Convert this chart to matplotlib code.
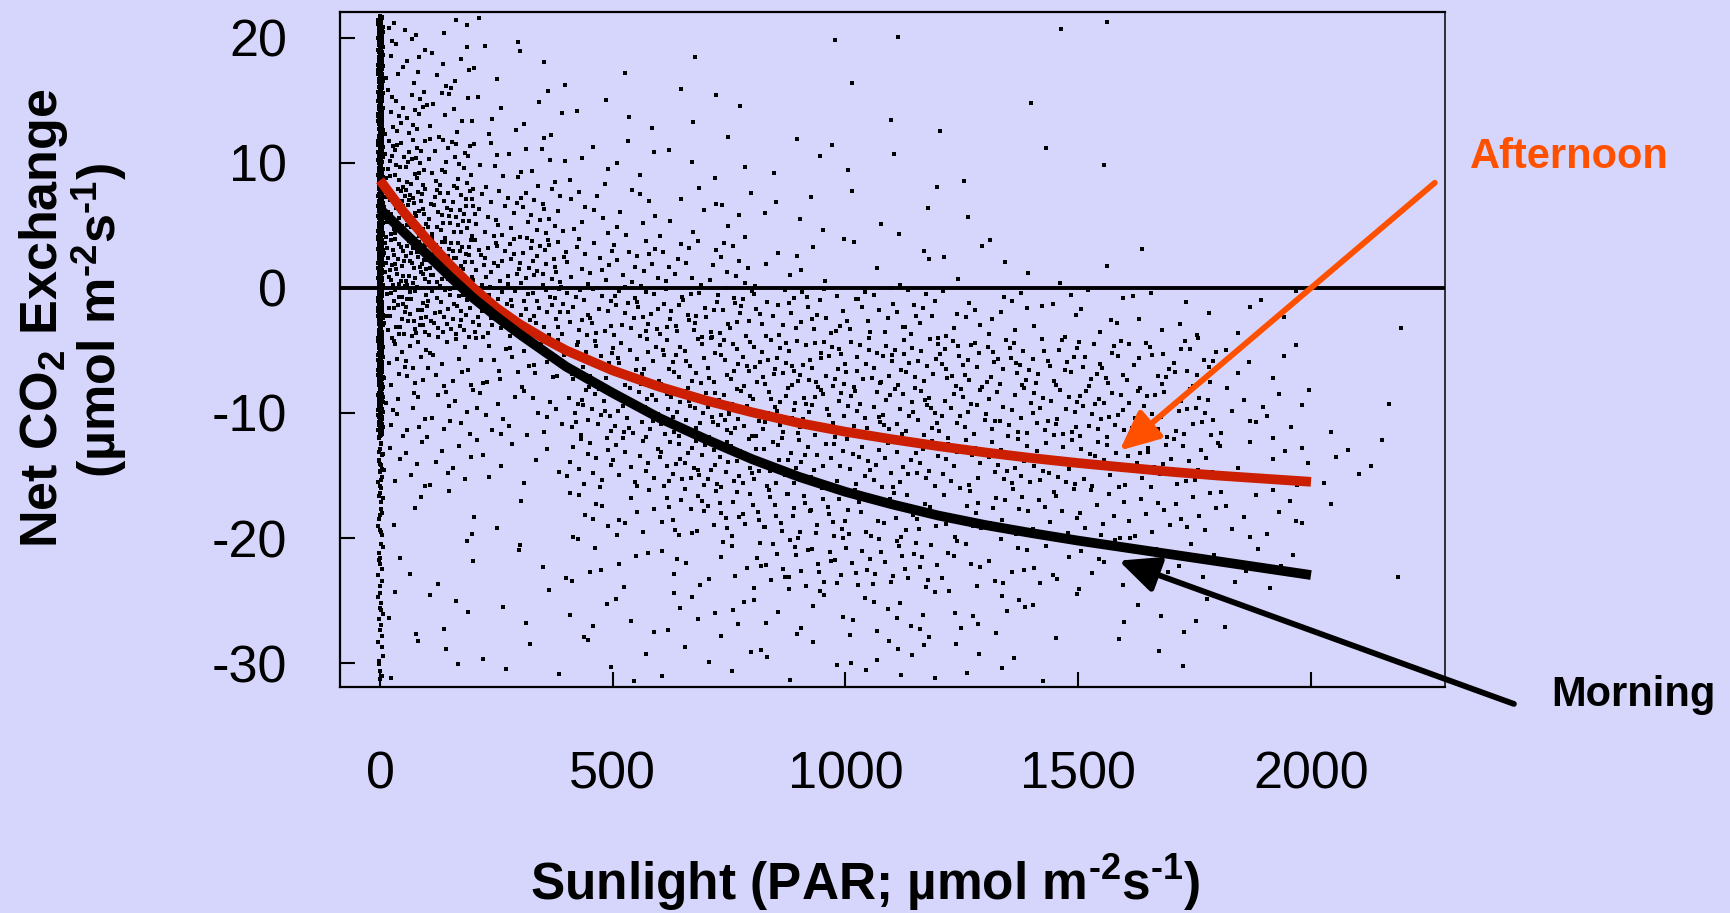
import numpy as np
import matplotlib
matplotlib.use('Agg')
import matplotlib.pyplot as plt

plt.rcParams['font.family'] = ['Liberation Sans', 'DejaVu Sans']
plt.rcParams['mathtext.fontset'] = 'custom'
plt.rcParams['mathtext.rm'] = 'Liberation Sans:bold'
plt.rcParams['mathtext.it'] = 'Liberation Sans:bold'
plt.rcParams['mathtext.bf'] = 'Liberation Sans:bold'
plt.rcParams['mathtext.default'] = 'rm'
plt.rcParams['axes.unicode_minus'] = False

# fitted light-response curves
par_curve = [0, 50, 100, 150, 200, 250, 300, 350, 400, 500, 600, 700, 800, 900, 1000,
             1100, 1200, 1300, 1400, 1500, 1600, 1700, 1800, 1900, 2000]
afternoon = [8.6, 6.1, 3.9, 1.85, 0.0, -1.6, -2.9, -4.0, -5.0, -6.6, -7.9, -9.0, -9.95, -10.8, -11.5,
             -12.1, -12.65, -13.15, -13.6, -14.0, -14.35, -14.7, -15.0, -15.25, -15.5]
morning = [6.3, 4.5, 2.7, 0.9, -0.8, -2.3, -3.7, -5.0, -6.3, -8.4, -10.4, -12.1, -13.7, -15.1, -16.3,
           -17.3, -18.2, -18.95, -19.6, -20.2, -20.75, -21.3, -21.85, -22.4, -22.95]

# half-hourly observations, read as a count of dots per PAR x NEE cell
par_edges = [8, 100, 200, 400, 600, 800, 1000, 1200, 1400, 1600, 1800, 2000, 2200]
nee_edges = [21.8, 20, 16, 12, 8, 4, 0, -4, -8, -12, -16, -20, -24, -28, -31.5]
dot_counts = [
    [4, 3, 1, 0, 0, 0, 1, 0, 2, 0, 0, 0],
    [12, 8, 7, 1, 1, 1, 1, 0, 0, 0, 0, 0],
    [20, 13, 10, 4, 5, 0, 1, 2, 0, 0, 0, 0],
    [35, 23, 18, 9, 4, 4, 3, 1, 2, 0, 0, 0],
    [52, 38, 36, 17, 12, 5, 4, 1, 0, 0, 0, 0],
    [55, 48, 55, 30, 22, 9, 5, 6, 2, 1, 0, 0],
    [42, 36, 55, 42, 40, 30, 27, 16, 12, 8, 5, 1],
    [18, 14, 24, 36, 40, 44, 38, 38, 32, 27, 6, 0],
    [12, 12, 18, 40, 50, 40, 38, 33, 38, 27, 13, 2],
    [9, 8, 9, 28, 44, 34, 33, 28, 28, 27, 10, 6],
    [3, 2, 3, 16, 28, 33, 22, 22, 20, 16, 12, 1],
    [2, 2, 5, 9, 11, 27, 27, 16, 13, 8, 6, 1],
    [3, 4, 3, 7, 10, 10, 13, 10, 5, 5, 1, 0],
    [2, 2, 4, 4, 5, 5, 9, 5, 2, 2, 0, 0],
]
# night-time points piled up at PAR = 0
strip_counts = [30, 65, 65, 65, 65, 65, 65, 60, 50, 20, 12, 10, 10, 8]

x_ticks = [0, 500, 1000, 1500, 2000]
y_ticks = [-30, -20, -10, 0, 10, 20]

# arrows: (tail, head) in data units
afternoon_arrow = [(2266, 8.4), (1589, -13.0)]
morning_arrow = [(2436, -33.25), (1587, -21.8)]


def halton(i, b):
    f, r = 1.0, 0.0
    while i > 0:
        f /= b
        r += f * (i % b)
        i //= b
    return r


px, py = [], []
k = 0
for r in range(len(nee_edges) - 1):
    for c in range(len(par_edges) - 1):
        for _ in range(dot_counts[r][c]):
            k += 1
            px.append(par_edges[c] + halton(k, 2) * (par_edges[c + 1] - par_edges[c]))
            py.append(nee_edges[r + 1] + halton(k, 3) * (nee_edges[r] - nee_edges[r + 1]))
    for _ in range(strip_counts[r]):
        k += 1
        px.append(-4 + halton(k, 2) * 10)
        py.append(nee_edges[r + 1] + halton(k, 3) * (nee_edges[r] - nee_edges[r + 1]))

bg = '#D6D6FC'
fig = plt.figure(figsize=(17.31, 9.13), dpi=100, facecolor=bg)
ax = fig.add_axes([0.1964, 0.2475, 0.6384, 0.7394], facecolor=bg)

ax.scatter(px, py, s=4.8, c='black', marker='s', linewidths=0, zorder=2)
ax.axhline(0, color='black', lw=2.8, zorder=3)
ax.plot(par_curve, afternoon, color='#CC1E00', lw=7, solid_capstyle='butt',
        solid_joinstyle='round', zorder=4)
ax.plot(par_curve, morning, color='black', lw=7, solid_capstyle='butt',
        solid_joinstyle='round', zorder=4)

ax.set_xlim(-86, 2288)
ax.set_ylim(-31.9, 22.05)
ax.set_xticks(x_ticks)
ax.set_xticklabels([str(v) for v in x_ticks])
ax.set_yticks(y_ticks)
ax.set_yticklabels([str(v) for v in y_ticks])
ax.tick_params(direction='in', length=11, width=1.5, labelsize=37.5)
ax.tick_params(axis='y', pad=38)
ax.tick_params(axis='x', pad=46)
for s in ['left', 'bottom', 'top']:
    ax.spines[s].set_linewidth(1.6)
ax.spines['right'].set_linewidth(1.1)

ax.annotate('', xy=afternoon_arrow[1], xytext=afternoon_arrow[0],
            arrowprops=dict(arrowstyle='-|>,head_length=1.2,head_width=0.55', color='#FF5000',
                            lw=4.2, mutation_scale=20, shrinkA=0, shrinkB=0),
            annotation_clip=False, zorder=6)
ax.annotate('', xy=morning_arrow[1], xytext=morning_arrow[0],
            arrowprops=dict(arrowstyle='-|>,head_length=1.2,head_width=0.55', color='black',
                            lw=4.2, mutation_scale=20, shrinkA=0, shrinkB=0),
            annotation_clip=False, zorder=6)

fig.text(0.849, 0.816, 'Afternoon', color='#FF5000', fontsize=30, fontweight='bold', va='baseline')
fig.text(0.896, 0.2267, 'Morning', color='black', fontsize=30, fontweight='bold', va='baseline')

fig.text(0.0329, 0.6517, r'Net CO$_2$ Exchange', rotation=90, rotation_mode='anchor',
         ha='center', va='baseline', fontsize=37.5, fontweight='bold')
fig.text(0.0670, 0.6495, r'(µmol m$^{‐2}$s$^{‐1}$)', rotation=90, rotation_mode='anchor',
         ha='center', va='baseline', fontsize=37.5, fontweight='bold')
fig.text(0.5, 0.0142, r'Sunlight (PAR; µmol m$^{‐2}$s$^{‐1}$)', ha='center', va='baseline',
         fontsize=37, fontweight='bold')

fig.savefig('out.png', dpi=100, facecolor=bg)
